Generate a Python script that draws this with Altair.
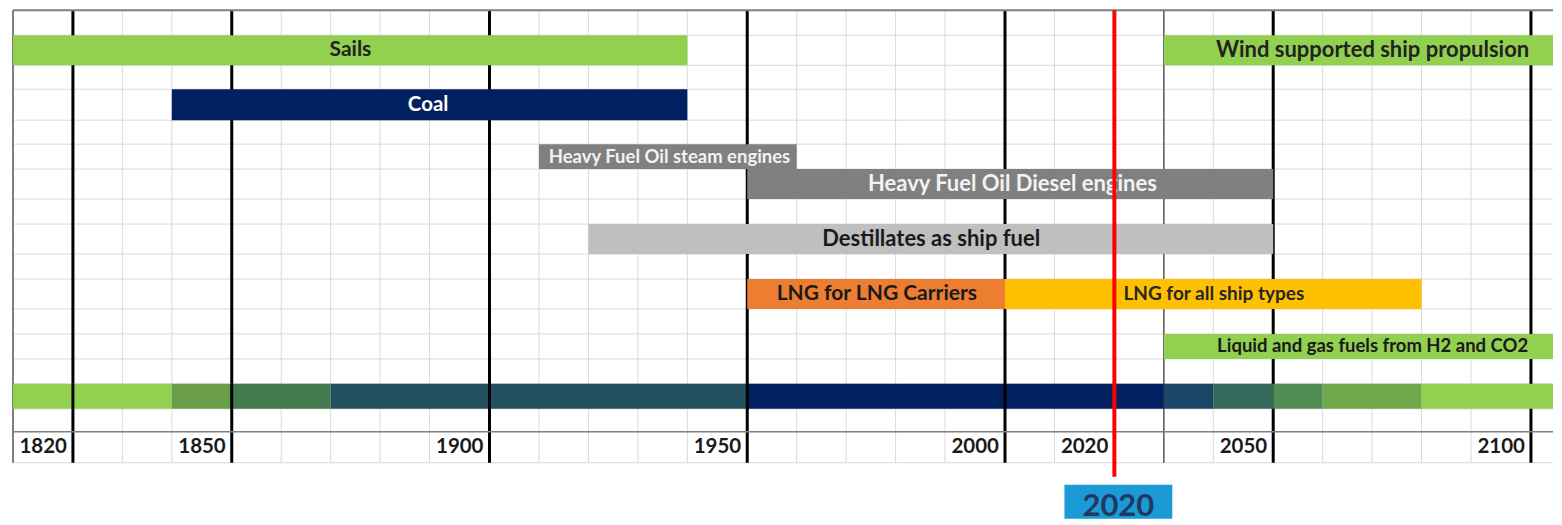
import altair as alt
import pandas as pd

# ---------------- data ----------------
bar_names = [
    "Sails",
    "Wind supported ship propulsion",
    "Coal",
    "Heavy Fuel Oil steam engines",
    "Heavy Fuel Oil Diesel engines",
    "Destillates as ship fuel",
    "LNG for LNG Carriers",
    "LNG for all ship types",
    "Liquid and gas fuels from H2 and CO2",
]
bar_start = [1810, 2030, 1840, 1910, 1950, 1920, 1950, 2000, 2030]
bar_end = [1940, 2110, 1940, 1960, 2050, 2050, 2000, 2080, 2110]
bar_row = [1, 1, 3, 5, 6, 8, 10, 10, 12]
bar_color = ["#92D050", "#92D050", "#002060", "#808080", "#808080",
             "#BFBFBF", "#ED7D31", "#FFC000", "#92D050"]
label_year = [1874, 2070.1, 1889.7, 1936.4, 2001.5, 1987.2, 1976.2, 2040.1, 2070.1]
label_color = ["#222222", "#222222", "#FFFFFF", "#F2F2F2", "#F2F2F2",
               "#1A1A1A", "#1A1A1A", "#262626", "#1A1A1A"]
label_size = [21, 22, 20.5, 18.5, 22, 22, 21, 19, 18.5]

# transition strip (row 14)
strip_start = [1810, 1840, 1850, 1870, 1950, 2030, 2040, 2050, 2060, 2080]
strip_end = [1840, 1850, 1870, 1950, 2030, 2040, 2050, 2060, 2080, 2110]
strip_color = ["#92D050", "#6A9E4B", "#44794F", "#244F5E", "#002060",
               "#1D4565", "#34685A", "#508C53", "#6FA74D", "#92D050"]
STRIP_ROW = 14

# axis labels
year_labels = [1820, 1850, 1900, 1950, 2000, 2020, 2050, 2100]
major_years = [1820, 1850, 1900, 1950, 2000, 2050, 2100]
minor_years = list(range(1830, 2101, 10))
LABEL_ROW = 16
N_ROWS = 17
NOW_YEAR = 2020

# ---------------- layout (spreadsheet-like grid) ----------------
W = 1542
H = 509
COL_WIDE = 60.0      # columns that carry a year label
COL_NARROW = 49.52   # ordinary decade columns
col_years = list(range(1810, 2111, 10))
x_range = [0.0]
for yv in col_years[1:]:
    x_range.append(x_range[-1] + (COL_WIDE if yv in year_labels else COL_NARROW))

ROW_HEIGHTS = [25, 30, 24, 31, 24, 25, 30, 25, 30, 25, 30, 25, 25, 25, 25, 23, 31]
y_dom = list(range(0, N_ROWS + 1))
y_range = [0.0]
for h in ROW_HEIGHTS:
    y_range.append(y_range[-1] + h)

xs = alt.Scale(domain=col_years, range=x_range, nice=False, zero=False)
ys = alt.Scale(domain=y_dom, range=y_range, nice=False, zero=False)


def X(f):
    return alt.X(f, type="quantitative", scale=xs, axis=None)


def X2(f):
    return alt.X2(f)


def Y(f):
    return alt.Y(f, type="quantitative", scale=ys, axis=None)


def Y2(f):
    return alt.Y2(f)


FONT = "Lato"

# minor vertical grid
minor_df = pd.DataFrame({"x": minor_years, "y0": 0, "y1": N_ROWS})
minor = alt.Chart(minor_df).mark_rule(color="#D9D9D9", strokeWidth=1).encode(
    x=X("x"), y=Y("y0"), y2=Y2("y1"))

# horizontal grid
hgrid_df = pd.DataFrame({"y": [r for r in range(1, N_ROWS + 1) if r != LABEL_ROW]})
hgrid = alt.Chart(hgrid_df).mark_rule(color="#D9D9D9", strokeWidth=1).encode(
    y=Y("y"), x=alt.value(0), x2=alt.value(W))

# dark border lines (top + above label row)
border_df = pd.DataFrame({"y": [0, LABEL_ROW], "w": [2, 1.5]})
borders = alt.Chart(border_df).mark_rule(color="#7F7F7F").encode(
    y=Y("y"), x=alt.value(0), x2=alt.value(W),
    strokeWidth=alt.StrokeWidth("w:Q", scale=None))

left_df = pd.DataFrame({"y0": [0], "y1": [N_ROWS]})
left_border = alt.Chart(left_df).mark_rule(color="#7F7F7F", strokeWidth=2).encode(
    x=alt.value(0), y=Y("y0"), y2=Y2("y1"))

# 2030 darker line
mid_df = pd.DataFrame({"x": [2030], "y0": [0], "y1": [N_ROWS]})
mid_line = alt.Chart(mid_df).mark_rule(color="#595959", strokeWidth=1.5).encode(
    x=X("x"), y=Y("y0"), y2=Y2("y1"))

# thick black verticals
major_df = pd.DataFrame({"x": major_years, "y0": 0, "y1": N_ROWS})
major = alt.Chart(major_df).mark_rule(color="#000000", strokeWidth=3).encode(
    x=X("x"), y=Y("y0"), y2=Y2("y1"))

# bars
bars_df = pd.DataFrame({
    "name": bar_names, "start": bar_start, "end": bar_end,
    "row": bar_row, "color": bar_color,
    "lx": label_year, "lcolor": label_color, "lsize": label_size,
})
bars_df["row1"] = bars_df["row"] + 1
bars_df["mid"] = bars_df["row"] + 0.5
bars = alt.Chart(bars_df).mark_rect(clip=True).encode(
    x=X("start"), x2=X2("end"), y=Y("row"), y2=Y2("row1"),
    color=alt.Color("color:N", scale=None))

# strip
strip_df = pd.DataFrame({"start": strip_start, "end": strip_end, "color": strip_color})
strip_df["row"] = STRIP_ROW
strip_df["row1"] = STRIP_ROW + 1
strip = alt.Chart(strip_df).mark_rect(clip=True).encode(
    x=X("start"), x2=X2("end"), y=Y("row"), y2=Y2("row1"),
    color=alt.Color("color:N", scale=None))

# thick lines crossing the strip on the historic side
cross_df = pd.DataFrame({"x": [y for y in major_years if y <= 2000]})
cross_df["y0"] = STRIP_ROW
cross_df["y1"] = STRIP_ROW + 1
cross = alt.Chart(cross_df).mark_rule(color="#000000", strokeWidth=3).encode(
    x=X("x"), y=Y("y0"), y2=Y2("y1"))

# bar labels
bar_text = alt.Chart(bars_df).mark_text(
    font=FONT, fontWeight="bold", baseline="middle", align="center").encode(
    x=X("lx"), y=Y("mid"), text="name:N",
    color=alt.Color("lcolor:N", scale=None),
    size=alt.Size("lsize:Q", scale=None))

# year labels
yl_df = pd.DataFrame({"x": year_labels, "y": LABEL_ROW + 0.5})
yl_df["t"] = yl_df["x"].astype(str)
year_text = alt.Chart(yl_df).mark_text(
    font=FONT, fontWeight="bold", fontSize=20.5, align="right", baseline="middle",
    dx=-6, color="#1A1A1A").encode(x=X("x"), y=Y("y"), text="t:N")

# current-year marker
now_df = pd.DataFrame({"x": [NOW_YEAR], "y0": [0], "y1": [17.45]})
now_line = alt.Chart(now_df).mark_rule(color="#FF0000", strokeWidth=4).encode(
    x=X("x"), y=Y("y0"), y2=Y2("y1"))

box_df = pd.DataFrame({"x": [NOW_YEAR], "y0": [17.71], "y1": [18.81], "ym": [18.42],
                       "t": [str(NOW_YEAR)]})
box = alt.Chart(box_df).mark_rect(color="#1B9AD6", xOffset=-50, x2Offset=58).encode(
    x=X("x"), x2=X2("x"), y=Y("y0"), y2=Y2("y1"))
box_text = alt.Chart(box_df).mark_text(
    font=FONT, fontWeight="bold", fontSize=31, color="#1F3864",
    align="center", baseline="middle", dx=4).encode(
    x=X("x"), y=Y("ym"), text="t:N")

chart = alt.layer(
    minor, hgrid, mid_line, major, borders, left_border,
    bars, strip, cross, bar_text, year_text, now_line, box, box_text,
).properties(
    width=W, height=H,
    padding={"left": 4, "top": 0, "right": 0, "bottom": 0},
    background="#FFFFFF",
).configure_view(stroke=None)

chart.save("out.html", embed_options={"renderer": "svg", "actions": False})
